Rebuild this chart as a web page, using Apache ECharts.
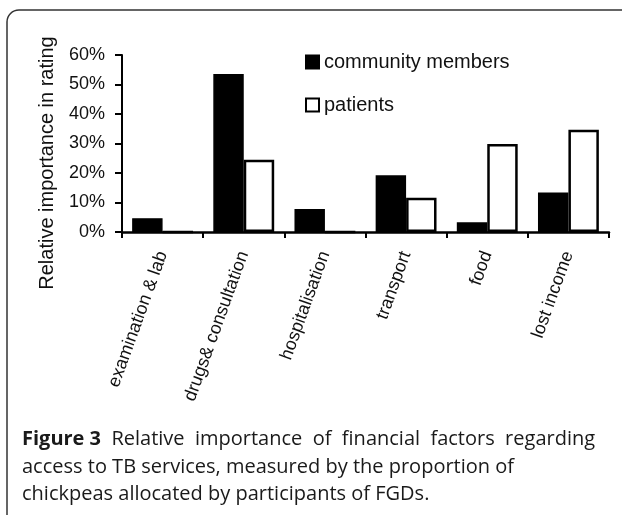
<!DOCTYPE html>
<html>
<head>
<meta charset="utf-8">
<script src="https://cdn.jsdelivr.net/npm/echarts@6/dist/echarts.min.js"></script>
<style>
html,body{margin:0;padding:0;background:#fff;}
#chart{width:622px;height:515px;}
</style>
</head>
<body>
<div id="chart"></div>
<script>
const categories = ['examination & lab', 'drugs& consultation', 'hospitalisation', 'transport', 'food', 'lost income'];
const communityMembers = [4.7, 53.6, 7.8, 19.2, 3.3, 13.4];
const patients = [0, 24.5, 0, 11.6, 29.8, 34.7];
const yTicks = [0, 10, 20, 30, 40, 50, 60];
const seriesNames = ['community members', 'patients'];
const yTitle = 'Relative importance in rating';
const captionBold = 'Figure 3';
const captionLines = [
  '  Relative  importance  of  financial  factors  regarding',
  'access to TB services, measured by the proportion of',
  'chickpeas allocated by participants of FGDs.'
];

const chart = echarts.init(document.getElementById('chart'), null, {renderer: 'canvas'});
const axisFont = '"Liberation Sans", Arial, sans-serif';
const capFont = '"Open Sans", sans-serif';
const capSize = 20;

chart.setOption({
  animation: false,
  backgroundColor: '#fff',
  grid: {left: 122, right: 13, top: 55, bottom: 283, containLabel: false},
  legend: {
    orient: 'vertical',
    left: 305, top: 52, padding: 0,
    itemWidth: 13, itemHeight: 13,
    itemGap: 23,
    icon: 'rect',
    textStyle: {fontFamily: axisFont, fontSize: 20, color: '#111'},
    data: seriesNames
  },
  xAxis: {
    type: 'category',
    data: categories,
    axisLine: {lineStyle: {color: '#000', width: 2.5}},
    axisTick: {show: true, alignWithLabel: false, length: 6, lineStyle: {color: '#000', width: 2}},
    axisLabel: {
      rotate: 70, interval: 0, margin: 20,
      fontFamily: axisFont, fontSize: 18, color: '#111'
    }
  },
  yAxis: {
    type: 'value',
    min: yTicks[0], max: yTicks[yTicks.length - 1], interval: 10,
    splitLine: {show: false},
    axisLine: {show: true, lineStyle: {color: '#000', width: 2}},
    axisTick: {show: true, length: 7, lineStyle: {color: '#000', width: 2}},
    axisLabel: {formatter: '{value}%', fontFamily: axisFont, fontSize: 18, color: '#111', margin: 17}
  },
  series: [
    {
      name: seriesNames[0], type: 'bar', data: communityMembers,
      barGap: '0%', barCategoryGap: '25%',
      itemStyle: {color: '#000', borderColor: '#000', borderWidth: 1.5}
    },
    {
      name: seriesNames[1], type: 'bar', data: patients,
      barGap: '0%', barCategoryGap: '25%',
      itemStyle: {color: '#fff', borderColor: '#000', borderWidth: 2.5}
    }
  ],
  graphic: [
    {
      type: 'rect', silent: true, z: -1,
      shape: {x: 7, y: 10, width: 640, height: 560, r: 12},
      style: {fill: 'none', stroke: '#333', lineWidth: 1.5}
    },
    {
      type: 'text', silent: true,
      x: 47, y: 163, rotation: Math.PI / 2,
      style: {
        text: yTitle, fontFamily: axisFont, fontSize: 20, fill: '#111',
        align: 'center', verticalAlign: 'middle'
      }
    },
    {
      type: 'text', silent: true,
      x: 22, y: 426,
      style: {
        text: '{b|' + captionBold + '}{n|' + captionLines[0] + '}\n{n|' + captionLines[1] + '}\n{n|' + captionLines[2] + '}',
        fontFamily: capFont, fontSize: capSize, fill: '#1a1a1a', lineHeight: 27.5,
        rich: {
          b: {fontFamily: capFont, fontSize: capSize, fontWeight: 'bold', fill: '#1a1a1a', lineHeight: 27.5},
          n: {fontFamily: capFont, fontSize: capSize, fill: '#1a1a1a', lineHeight: 27.5}
        }
      }
    }
  ]
});
</script>
</body>
</html>
